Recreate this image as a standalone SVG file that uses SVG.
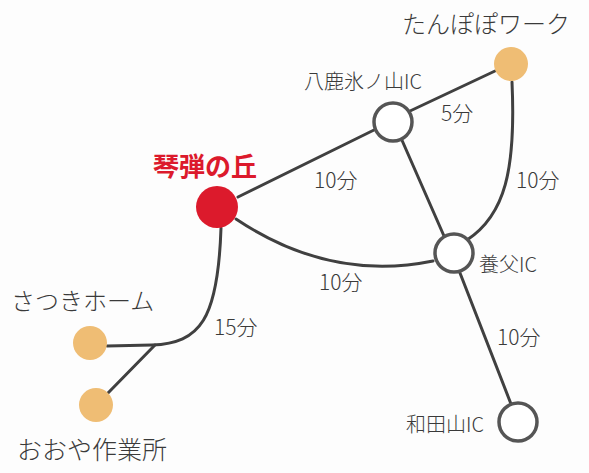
<svg xmlns="http://www.w3.org/2000/svg" width="589" height="473" viewBox="0 0 589 473">
<style>
.t{font-family:"Noto Sans CJK JP","Noto Sans",sans-serif;fill:#3a3a3a;font-weight:300}
.e{fill:none;stroke:#404040;stroke-width:3;stroke-linecap:round}
.ic{fill:#fff;stroke:#555;stroke-width:3.5}
.fac{fill:#efbd74}
</style>
<rect width="589" height="473" fill="#fdfdfd"/>
<g id="connectors">
<path class="e" d="M238,197 L374,130"/>
<path class="e" d="M236,219 Q330,282 433,261"/>
<path class="e" d="M410,111 L495,71"/>
<path class="e" d="M401,138 L444,236"/>
<path class="e" d="M512,82 C516,170 505,215 467,240"/>
<path class="e" d="M460,273 L511,404"/>
<path class="e" d="M221,228 C218,320 200,343 152,345 L107,346"/>
<path class="e" d="M155,345 L108,393"/>
</g>
<g id="kotohiki"><circle cx="217" cy="207" r="21" fill="#dc1a2c"/><text class="t" x="153" y="176" font-size="26" style="fill:#dc1a2c;font-weight:700">琴弾の丘</text></g>
<g id="yoka"><circle class="ic" cx="393" cy="122" r="19"/><text class="t" x="304" y="89" font-size="20">八鹿氷ノ山IC</text></g>
<g id="tanpopo"><circle class="fac" cx="511" cy="64" r="17"/><text class="t" x="402" y="33" font-size="24">たんぽぽワーク</text></g>
<g id="yabu"><circle class="ic" cx="454" cy="253" r="19"/><text class="t" x="479" y="272" font-size="20">養父IC</text></g>
<g id="wadayama"><circle class="ic" cx="518" cy="422" r="19"/><text class="t" x="406" y="432" font-size="20">和田山IC</text></g>
<g id="satsuki"><circle class="fac" cx="90" cy="343" r="17"/><text class="t" x="11" y="310" font-size="24">さつきホーム</text></g>
<g id="ooya"><circle class="fac" cx="96" cy="405" r="17"/><text class="t" x="17" y="459" font-size="25">おおや作業所</text></g>
<g id="labels">
<text class="t" x="441" y="121" font-size="21">5分</text>
<text class="t" x="314" y="188" font-size="21">10分</text>
<text class="t" x="516" y="188" font-size="21">10分</text>
<text class="t" x="319" y="290" font-size="21">10分</text>
<text class="t" x="497" y="345" font-size="21">10分</text>
<text class="t" x="214" y="335" font-size="21">15分</text>
</g>
</svg>
